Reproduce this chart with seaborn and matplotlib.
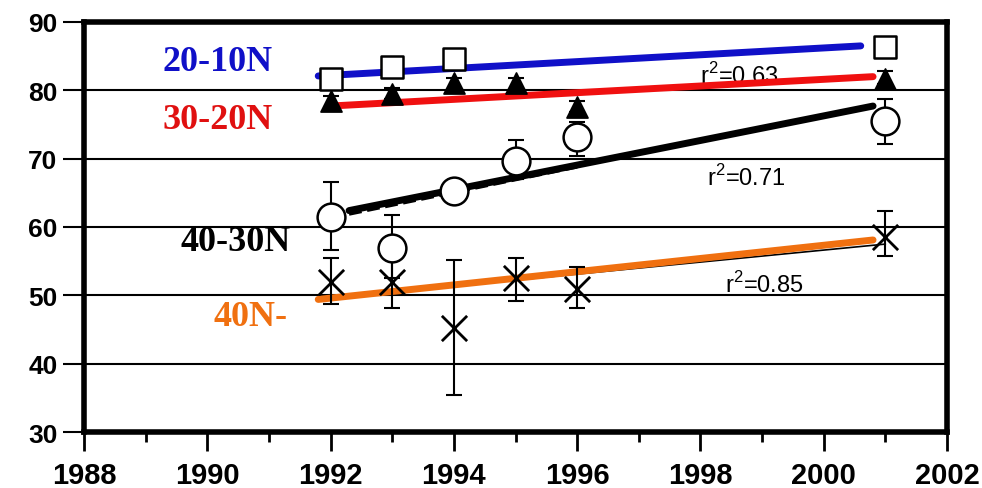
import matplotlib
matplotlib.use("Agg")
import matplotlib.pyplot as plt
import seaborn as sns
import pandas as pd
import numpy as np

# ---- data ----
years_sq = [1992, 1993, 1994, 2001]
vals_sq = [81.7, 83.4, 84.6, 86.4]

years_tri = [1992, 1993, 1994, 1995, 1996, 2001]
vals_tri = [78.4, 79.5, 81.0, 81.0, 77.6, 81.7]
err_tri_lo = [77.6, 78.7, 80.2, 80.2, 76.8, 80.9]
err_tri_hi = [79.2, 80.3, 81.8, 81.8, 78.4, 82.8]

years_circ = [1992, 1993, 1994, 1995, 1996, 2001]
vals_circ = [61.5, 56.9, 65.2, 69.6, 73.2, 75.5]
err_circ_lo = [56.6, 52.6, 64.5, 67.0, 70.4, 72.2]
err_circ_hi = [66.6, 61.8, 66.5, 72.8, 75.4, 78.8]

years_x = [1992, 1993, 1994, 1995, 1996, 2001]
vals_x = [52.0, 52.0, 45.2, 52.5, 51.0, 58.6]
err_x_lo = [48.8, 48.1, 35.4, 49.1, 48.2, 55.7]
err_x_hi = [55.5, 55.8, 55.1, 55.5, 54.2, 62.3]

fit_blue_x = [1991.8, 2000.6]
fit_blue_y = [82.1, 86.5]
fit_red_x = [1992.0, 2000.8]
fit_red_y = [77.7, 82.0]
fit_black_x = [1992.3, 2000.8]
fit_black_y = [62.4, 77.7]
fit_black_dash_x = [1992.3, 1996.0]
fit_black_dash_y = [61.9, 68.8]
fit_orange_x = [1991.8, 2000.8]
fit_orange_y = [49.4, 58.1]
fit_thin_x = [1992.0, 2001.0]
fit_thin_y = [49.6, 57.5]

region_labels = ["20-10N", "30-20N", "40-30N", "40N-"]
region_label_pos = [(1989.28, 84.2), (1989.28, 75.8), (1989.56, 57.9), (1990.1, 46.9)]
region_colors = ["#1010c8", "#e01010", "#000000", "#f07010"]

r2_labels = ["r$^2$=0.63", "r$^2$=0.71", "r$^2$=0.85"]
r2_pos = [(1998.0, 82.3), (1998.1, 67.3), (1998.4, 51.7)]

xticks_major = [1988, 1990, 1992, 1994, 1996, 1998, 2000, 2002]
yticks = [30, 40, 50, 60, 70, 80, 90]

# ---- figure ----
sns.set_theme(style="white")
plt.rcParams['font.family'] = ['Liberation Sans', 'DejaVu Sans']
plt.rcParams['mathtext.fontset'] = 'custom'
plt.rcParams['mathtext.rm'] = 'Liberation Sans'
fig = plt.figure(figsize=(9.82, 4.89), dpi=100)
ax = fig.add_axes([0.0855, 0.1145, 0.8789, 0.8385])
ax.set_xlim(1988, 2002)
ax.set_ylim(30, 90)

for yv in [40, 50, 60, 70, 80]:
    ax.axhline(yv, color="black", lw=1.5, zorder=1)

# fit lines
sns.lineplot(x=fit_thin_x, y=fit_thin_y, ax=ax, color="black", lw=1.2, zorder=2)
sns.lineplot(x=fit_black_dash_x, y=fit_black_dash_y, ax=ax, color="black", lw=2.5,
             linestyle="--", zorder=2)
sns.lineplot(x=fit_blue_x, y=fit_blue_y, ax=ax, color="#1010c8", lw=5, zorder=3)
sns.lineplot(x=fit_red_x, y=fit_red_y, ax=ax, color="#f01010", lw=5, zorder=3)
sns.lineplot(x=fit_black_x, y=fit_black_y, ax=ax, color="black", lw=5, zorder=3)
sns.lineplot(x=fit_orange_x, y=fit_orange_y, ax=ax, color="#f07010", lw=5, zorder=3)

# error bars
def ebar(xs, ys, lo, hi):
    ys = np.array(ys); lo = np.array(lo); hi = np.array(hi)
    ax.errorbar(xs, ys, yerr=[ys - lo, hi - ys], fmt="none", ecolor="black",
                elinewidth=1.5, capsize=6, capthick=1.5, zorder=4)

ebar(years_tri, vals_tri, err_tri_lo, err_tri_hi)
ebar(years_circ, vals_circ, err_circ_lo, err_circ_hi)
ebar(years_x, vals_x, err_x_lo, err_x_hi)

# markers
sns.scatterplot(x=years_sq, y=vals_sq, ax=ax, marker="s", s=260, facecolor="white",
                edgecolor="black", linewidth=1.8, zorder=5)
sns.scatterplot(x=years_tri, y=vals_tri, ax=ax, marker="^", s=230, color="black",
                edgecolor="black", zorder=5)
sns.scatterplot(x=years_circ, y=vals_circ, ax=ax, marker="o", s=400, facecolor="white",
                edgecolor="black", linewidth=1.8, zorder=5)
sns.scatterplot(x=years_x, y=vals_x, ax=ax, marker="x", s=330, color="black",
                linewidth=2.0, zorder=5)

# labels
for lab, (lx, ly), c in zip(region_labels, region_label_pos, region_colors):
    ax.text(lx, ly, lab, color=c, fontsize=26, fontweight="bold",
            family=["Liberation Serif", "DejaVu Serif"], va="center", ha="left", zorder=6)
for lab, (lx, ly) in zip(r2_labels, r2_pos):
    ax.text(lx, ly, lab, color="black", fontsize=17, va="center", ha="left", zorder=2)

# axes styling
ax.set_xticks(xticks_major)
ax.set_xticks(list(range(1988, 2003)), minor=True)
ax.set_yticks(yticks)
ax.tick_params(axis="x", which="major", length=14, width=2, direction="out", pad=7,
               labelsize=21, bottom=True, color="black", labelcolor="black")
ax.tick_params(axis="x", which="minor", length=7, width=2, direction="out", bottom=True,
               color="black")
ax.tick_params(axis="y", which="major", length=15, width=1.5, direction="out", pad=4,
               labelsize=19, left=True, color="black", labelcolor="black")
for lab in ax.get_xticklabels() + ax.get_yticklabels():
    lab.set_fontweight("bold")
for side in ["left", "bottom", "top", "right"]:
    ax.spines[side].set_visible(True)
    ax.spines[side].set_color("black")
    ax.spines[side].set_linewidth(4)
ax.set_xlabel("")
ax.set_ylabel("")
ax.grid(False)

fig.savefig("out.png", dpi=100)
